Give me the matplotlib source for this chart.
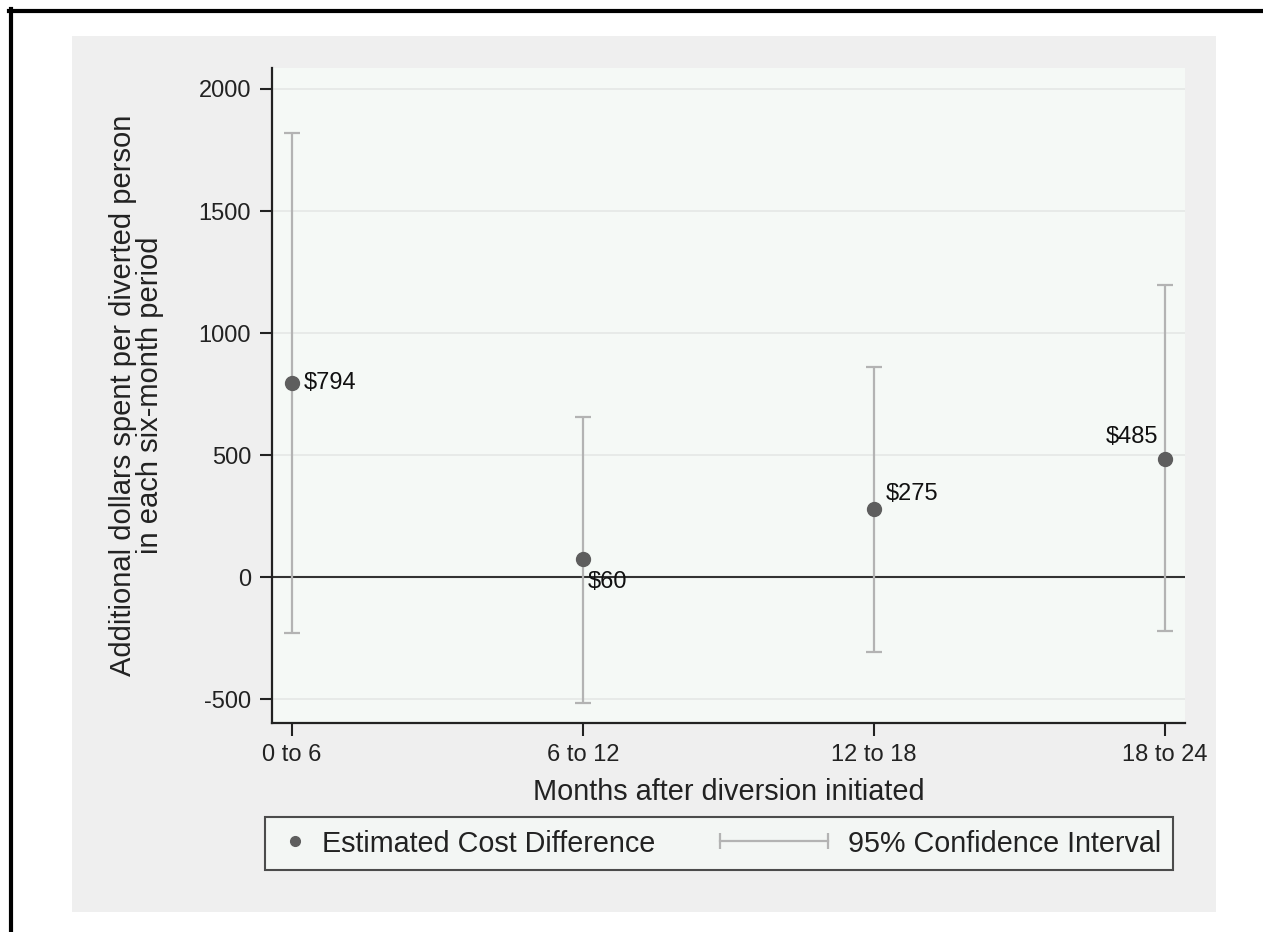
import matplotlib
matplotlib.use('Agg')
import matplotlib.pyplot as plt
from matplotlib.lines import Line2D
from matplotlib.patches import Rectangle
from matplotlib.legend_handler import HandlerLine2D

plt.rcParams['font.family'] = ['Liberation Sans', 'DejaVu Sans']
plt.rcParams['axes.unicode_minus'] = False

# data
periods = ['0 to 6', '6 to 12', '12 to 18', '18 to 24']
estimate = [794, 74, 279, 484]
ci_low = [-230, -516, -307, -221]
ci_high = [1820, 656, 861, 1197]
point_labels = ['$794', '$60', '$275', '$485']
y_ticks = [-500, 0, 500, 1000, 1500, 2000]

W, H = 1263, 932
DARK = '#5e5e5e'
CI_COL = '#b3b3b3'
PLOT_BG = '#f5f9f6'
OUTER_BG = '#efefef'
TXT = '#222222'
LEG_FS = 20.7


class DotAtRight(HandlerLine2D):
    # legend dot sits at the right end of the handle, next to its text
    def create_artists(self, legend, orig_handle, xdescent, ydescent,
                       width, height, fontsize, trans):
        y = (height - ydescent) / 2
        dot = Line2D([width - xdescent - 8], [y], marker='o', linestyle='none')
        self.update_prop(dot, orig_handle, legend)
        dot.set_transform(trans)
        return [dot]


class CapLine(HandlerLine2D):
    # capped horizontal line, longer than the handle box (reaches into the column gap)
    def __init__(self, length_px, **kw):
        super().__init__(**kw)
        self.length = length_px

    def create_artists(self, legend, orig_handle, xdescent, ydescent,
                       width, height, fontsize, trans):
        y = (height - ydescent) / 2
        x1 = width - xdescent - 2
        x0 = x1 - self.length * 72 / 100
        line = Line2D([x0, x1], [y, y])
        self.update_prop(line, orig_handle, legend)
        line.set_transform(trans)
        return [line]


fig = plt.figure(figsize=(W / 100, H / 100), dpi=100, facecolor='white')

# outer grey region and the black frame lines on top/left
fig.patches.append(Rectangle((72 / W, 1 - 912 / H), (1216 - 72) / W, (912 - 36) / H,
                             transform=fig.transFigure, facecolor=OUTER_BG,
                             edgecolor='none', zorder=-5))
fig.add_artist(Line2D([9 / W, 1], [1 - 11 / H, 1 - 11 / H], transform=fig.transFigure,
                      color='black', lw=3))
fig.add_artist(Line2D([11 / W, 11 / W], [0, 1 - 9 / H], transform=fig.transFigure,
                      color='black', lw=3))

ax = fig.add_axes([272 / W, 1 - 723 / H, (1185 - 272) / W, (723 - 68) / H])
ax.set_facecolor(PLOT_BG)

x = list(range(1, len(periods) + 1))
err_low = [e - l for e, l in zip(estimate, ci_low)]
err_high = [h - e for e, h in zip(estimate, ci_high)]

for t in y_ticks:
    if t == 0:
        ax.axhline(0, color='#333333', lw=1.5, zorder=1)
    else:
        ax.axhline(t, color='#e3e6e4', lw=1.1, zorder=0.5)

ax.errorbar(x, estimate, yerr=[err_low, err_high], fmt='none', ecolor=CI_COL,
            elinewidth=1.6, capsize=5.5, capthick=1.6, zorder=2)
ax.plot(x, estimate, 'o', color=DARK, markersize=10, zorder=3)

offsets = [(12, 0), (5, -23), (12, 15), (-7, 22)]
aligns = ['left', 'left', 'left', 'right']
for xi, yi, lab, off, ha in zip(x, estimate, point_labels, offsets, aligns):
    ax.annotate(lab, (xi, yi), xytext=off, textcoords='offset pixels',
                ha=ha, va='center', fontsize=17, color='#111111', zorder=4)

ax.set_xlim(1 - 20 / 291, 4 + 20 / 291)
ax.set_ylim(-598, 2086)
ax.set_xticks(x)
ax.set_xticklabels(periods)
ax.set_yticks(y_ticks)
ax.tick_params(axis='both', labelsize=17, length=9, width=1.5, color=TXT,
               labelcolor=TXT, pad=6)
for s in ['top', 'right']:
    ax.spines[s].set_visible(False)
for s in ['left', 'bottom']:
    ax.spines[s].set_linewidth(1.6)
    ax.spines[s].set_color(TXT)

ax.set_xlabel('Months after diversion initiated', fontsize=20.8, color=TXT, labelpad=9)
ax.set_ylabel('Additional dollars spent per diverted person\nin each six-month period',
              fontsize=21, color=TXT, labelpad=25, linespacing=0.95)

dot_handle = Line2D([], [], marker='o', color=DARK, linestyle='none', markersize=7)
ci_handle = Line2D([], [], color=CI_COL, lw=1.6, marker='|', markersize=12,
                   markeredgewidth=1.6)
leg = fig.legend([dot_handle, ci_handle],
                 ['Estimated Cost Difference', '95% Confidence Interval'],
                 handler_map={ci_handle: CapLine(108), dot_handle: DotAtRight()},
                 loc='center',
                 bbox_to_anchor=(719 / W, 1 - 843.5 / H),
                 ncol=2, fontsize=LEG_FS, frameon=True, fancybox=False,
                 handlelength=1.0, handletextpad=0.58, borderpad=0.42,
                 borderaxespad=0, columnspacing=5.1)
leg.get_frame().set_facecolor(PLOT_BG)
leg.get_frame().set_edgecolor(TXT)
leg.get_frame().set_linewidth(1.5)
for t in leg.get_texts():
    t.set_color(TXT)

fig.savefig('out.png', dpi=100, facecolor='white')
